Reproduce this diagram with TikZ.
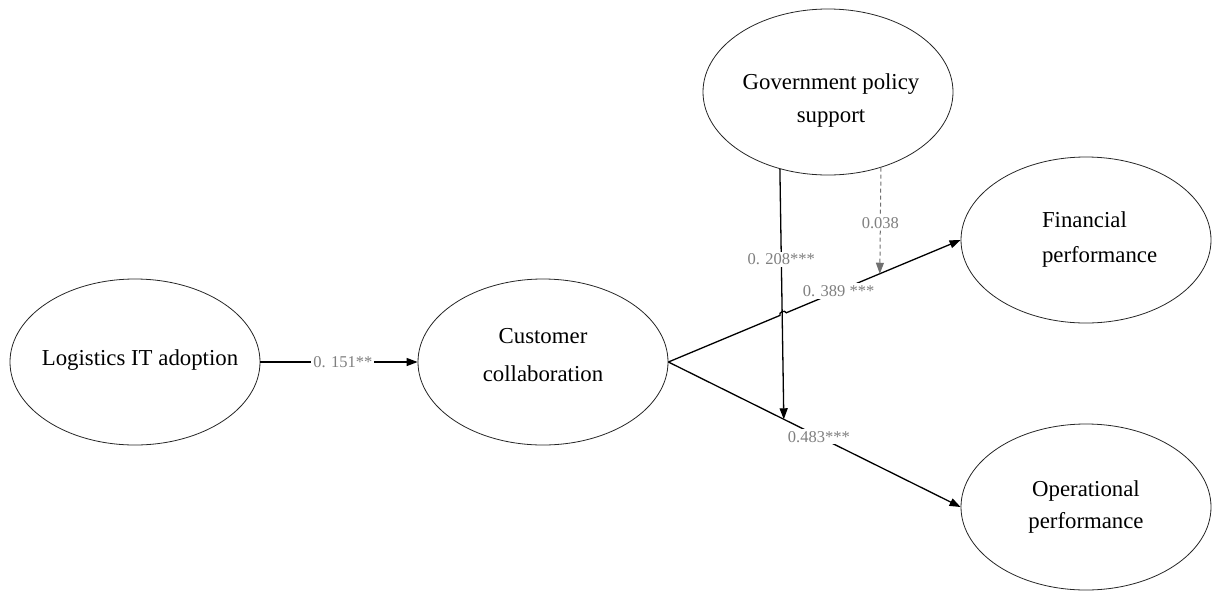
\documentclass[tikz,border=0pt]{standalone}
\usepackage{fontspec}
\setmainfont{Liberation Serif}
\usetikzlibrary{shapes.geometric,arrows.meta,calc}
\definecolor{lblgray}{HTML}{7F7F7F}
\definecolor{dashgray}{HTML}{707070}
\begin{document}
\begin{tikzpicture}[x=1pt,y=-1pt,
  construct/.style={draw=black!85, line width=0.8pt, ellipse, inner sep=0pt,
    minimum width=250pt, minimum height=166pt},
  ctext/.style={align=center, inner sep=0pt},
  conn/.style={line width=1.3pt, -{Triangle[length=11pt,width=8pt]}},
  dashconn/.style={draw=dashgray, line width=1pt, dash pattern=on 4pt off 3pt,
    -{Triangle[length=11pt,width=8pt,fill=dashgray]}},
  lbl/.style={font=\fontsize{16.5}{20}\selectfont, text=lblgray, fill=white, inner sep=2pt}
]
\useasboundingbox (0,0) rectangle (1216,592);

\node[construct, label={[ctext, font=\fontsize{22.8}{35}\selectfont, xshift=5pt, yshift=2pt]center:Logistics IT adoption}] (lit) at (135,362) {};
\node[construct, label={[ctext, font=\fontsize{22.8}{38}\selectfont, yshift=7.3pt]center:Customer\\collaboration}] (cc) at (543,362) {};
\node[construct, label={[ctext, font=\fontsize{22.8}{33.3}\selectfont, xshift=3pt, yshift=-8.6pt]center:Government policy\\support}] (gps) at (828,92) {};
\node[construct, label={[ctext, align=left, font=\fontsize{22.8}{35}\selectfont, xshift=13.6pt]center:Financial\\performance}] (fp) at (1086,240) {};
\node[construct, label={[ctext, font=\fontsize{22.8}{32}\selectfont]center:Operational\\performance}] (op) at (1086,507) {};

\coordinate (h1) at ($(cc.east)!0.3815!(fp.west)$);
\coordinate (h2) at ($(cc.east)!0.4035!(fp.west)$);
\coordinate (m1) at ($(cc.east)!0.395!(op.west)$);
\coordinate (m2) at ($(cc.east)!0.7235!(fp.west)$);

\draw[conn] (lit) -- node[lbl, pos=0.525] {0. 151**} (cc);
\draw[conn] (cc.east) -- (h1) to[bend left=90, looseness=1.3] (h2)
  -- node[lbl, pos=0.30] {0. 389 ***} (fp.west);
\draw[conn] (cc.east) -- node[lbl, pos=0.515] {0.483***} (op.west);
\draw[conn] (gps.238.6) -- node[lbl, pos=0.36] {0. 208***} (m1);
\draw[dashconn] (gps.305.2) -- node[lbl, pos=0.52] {0.038} (m2);
\end{tikzpicture}
\end{document}
